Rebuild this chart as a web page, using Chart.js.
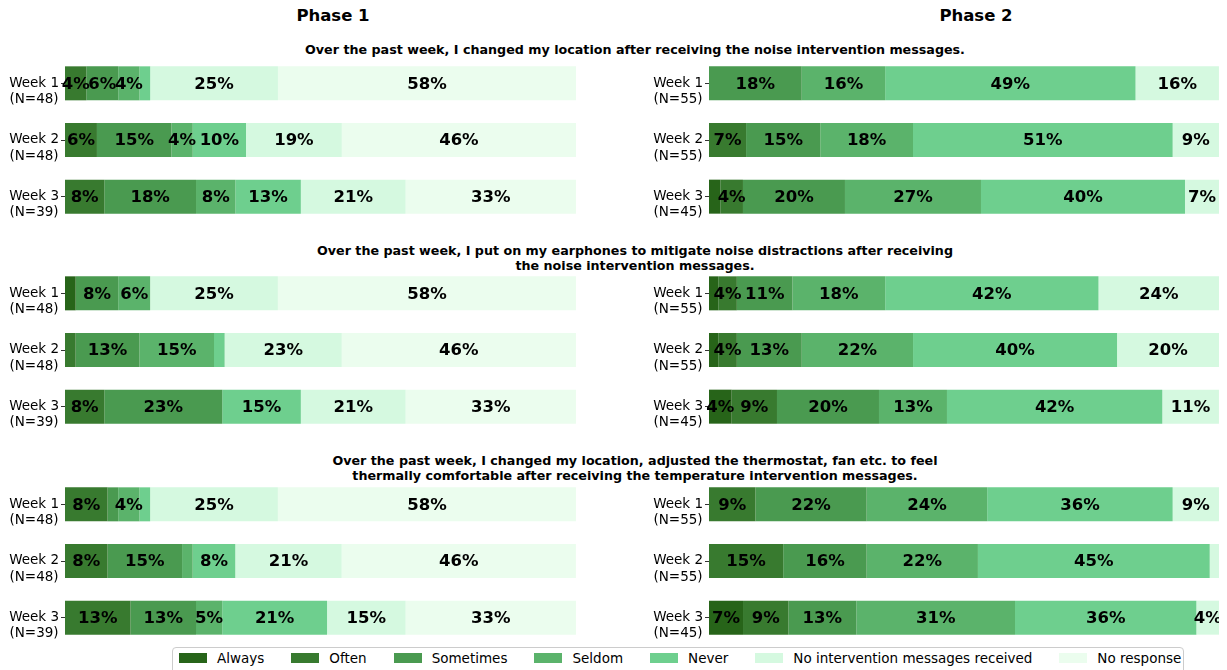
<!DOCTYPE html>
<html>
<head>
<meta charset="utf-8">
<script src="https://cdn.jsdelivr.net/npm/chart.js@4"></script>
<style>
  html, body { margin:0; padding:0; background:#fff; }
  body { width:1227px; height:670px; position:relative; overflow:hidden; font-family:"DejaVu Sans", sans-serif; color:#000; }
  .box { position:absolute; }
  .phase { position:absolute; width:400px; text-align:center; font-weight:bold; font-size:16.5px; top:6px; }
  .qtitle { position:absolute; left:235px; width:800px; text-align:center; font-weight:bold; font-size:12.7px; line-height:15px; }
  #legend { position:absolute; left:172px; top:647px; width:1012px; height:30px; border:1px solid #ccc; border-radius:4px; box-sizing:border-box; display:flex; align-items:flex-start; padding:2px 0 0 6px; gap:27px; font-size:13.5px; }
  .item { display:flex; align-items:center; white-space:nowrap; }
  .sw { width:28px; height:10px; margin-right:10px; }
</style>
</head>
<body>
<div class="phase" style="left:133px;">Phase 1</div>
<div class="phase" style="left:776px;">Phase 2</div>
<div class="qtitle" style="top:42px;">Over the past week, I changed my location after receiving the noise intervention messages.</div>
<div class="qtitle" style="top:243px;">Over the past week, I put on my earphones to mitigate noise distractions after receiving<br>the noise intervention messages.</div>
<div class="qtitle" style="top:453px;">Over the past week, I changed my location, adjusted the thermostat, fan etc. to feel<br>thermally comfortable after receiving the temperature intervention messages.</div>

<div class="box" style="left:0px;top:55px;width:576px;height:170px;"><canvas id="c0"></canvas></div>
<div class="box" style="left:620px;top:55px;width:599px;height:170px;"><canvas id="c1"></canvas></div>
<div class="box" style="left:0px;top:265px;width:576px;height:170px;"><canvas id="c2"></canvas></div>
<div class="box" style="left:620px;top:265px;width:599px;height:170px;"><canvas id="c3"></canvas></div>
<div class="box" style="left:0px;top:476px;width:576px;height:170px;"><canvas id="c4"></canvas></div>
<div class="box" style="left:620px;top:476px;width:599px;height:170px;"><canvas id="c5"></canvas></div>

<div id="legend"></div>

<script>
const categories = ['Always', 'Often', 'Sometimes', 'Seldom', 'Never', 'No intervention messages received', 'No response'];
const colors = ['#276419', '#387a2f', '#4a9a50', '#5bb36b', '#6ecf8e', '#d5f9e0', '#ebfdee'];

const weekLabelsPhase1 = [['Week 1', '(N=48)'], ['Week 2', '(N=48)'], ['Week 3', '(N=39)']];
const weekLabelsPhase2 = [['Week 1', '(N=55)'], ['Week 2', '(N=55)'], ['Week 3', '(N=45)']];

// Each row = one week; columns follow `categories` (percent)
const q1Phase1 = [
  [0, 4.17, 6.25, 4.17, 2.08, 25.00, 58.33],
  [0, 6.25, 14.58, 4.17, 10.42, 18.75, 45.83],
  [0, 7.69, 17.95, 7.69, 12.82, 20.51, 33.33]
];
const q1Phase2 = [
  [0, 0, 18.18, 16.36, 49.09, 16.36, 0],
  [0, 7.27, 14.55, 18.18, 50.91, 9.09, 0],
  [2.22, 4.44, 20.00, 26.67, 40.00, 6.67, 0]
];
const q2Phase1 = [
  [2.08, 0, 8.33, 6.25, 0, 25.00, 58.33],
  [0, 2.08, 12.50, 14.58, 2.08, 22.92, 45.83],
  [0, 7.69, 23.08, 0, 15.38, 20.51, 33.33]
];
const q2Phase2 = [
  [1.82, 3.64, 10.91, 18.18, 41.82, 23.64, 0],
  [1.82, 3.64, 12.73, 21.82, 40.00, 20.00, 0],
  [4.44, 8.89, 20.00, 13.33, 42.22, 11.11, 0]
];
const q3Phase1 = [
  [0, 8.33, 2.08, 4.17, 2.08, 25.00, 58.33],
  [0, 8.33, 14.58, 2.08, 8.33, 20.83, 45.83],
  [0, 12.82, 12.82, 5.13, 20.51, 15.38, 33.33]
];
const q3Phase2 = [
  [0, 9.09, 21.82, 23.64, 36.36, 9.09, 0],
  [0, 14.55, 16.36, 21.82, 45.45, 1.82, 0],
  [6.67, 8.89, 13.33, 31.11, 35.56, 4.44, 0]
];

const labelThreshold = 3;

const segmentLabels = {
  id: 'segmentLabels',
  afterDatasetsDraw(chart) {
    const ctx = chart.ctx;
    ctx.save();
    ctx.font = 'bold 16.5px "DejaVu Sans"';
    ctx.fillStyle = '#000';
    ctx.textAlign = 'center';
    ctx.textBaseline = 'middle';
    chart.data.datasets.forEach((ds, di) => {
      const meta = chart.getDatasetMeta(di);
      meta.data.forEach((bar, i) => {
        const v = ds.data[i];
        if (v >= labelThreshold) {
          const cx = (bar.x + bar.base) / 2;
          ctx.fillText(Math.round(v) + '%', cx, bar.y + 1);
        }
      });
    });
    ctx.restore();
  }
};

function makeChart(id, rows, labels, axisWidth) {
  const datasets = categories.map((cat, ci) => ({
    label: cat,
    data: rows.map(r => r[ci]),
    backgroundColor: colors[ci],
    borderWidth: 0,
    categoryPercentage: 0.6,
    barPercentage: 1.0
  }));
  new Chart(document.getElementById(id), {
    type: 'bar',
    data: { labels: labels, datasets: datasets },
    plugins: [segmentLabels],
    options: {
      indexAxis: 'y',
      responsive: true,
      maintainAspectRatio: false,
      animation: false,
      layout: { padding: 0 },
      plugins: { legend: { display: false }, tooltip: { enabled: false } },
      scales: {
        x: { stacked: true, min: 0, max: 100, display: false },
        y: {
          stacked: true,
          border: { display: false },
          grid: { display: true, drawOnChartArea: false, drawTicks: true, tickLength: 4, offset: false, color: '#000', lineWidth: 0.8 },
          ticks: { color: '#000', font: { family: 'DejaVu Sans', size: 13.5 }, padding: 2, crossAlign: 'center', labelOffset: 8 },
          afterFit(scale) {
            scale.width = axisWidth;
            scale.paddingTop = 0;
            scale.paddingBottom = 0;
          }
        }
      }
    }
  });
}

makeChart('c0', q1Phase1, weekLabelsPhase1, 65);
makeChart('c1', q1Phase2, weekLabelsPhase2, 89);
makeChart('c2', q2Phase1, weekLabelsPhase1, 65);
makeChart('c3', q2Phase2, weekLabelsPhase2, 89);
makeChart('c4', q3Phase1, weekLabelsPhase1, 65);
makeChart('c5', q3Phase2, weekLabelsPhase2, 89);

const legend = document.getElementById('legend');
categories.forEach((cat, ci) => {
  const it = document.createElement('div');
  it.className = 'item';
  const sw = document.createElement('span');
  sw.className = 'sw';
  sw.style.background = colors[ci];
  const t = document.createElement('span');
  t.textContent = cat;
  it.appendChild(sw);
  it.appendChild(t);
  legend.appendChild(it);
});
</script>
</body>
</html>
